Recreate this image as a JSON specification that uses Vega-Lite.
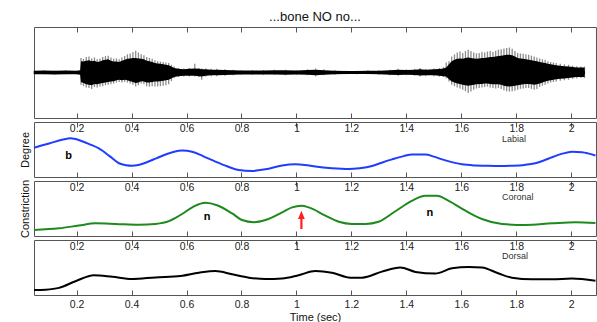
{
  "$schema": "https://vega.github.io/schema/vega-lite/v6.json",
  "padding": {"left": 18, "top": 10, "right": 0, "bottom": 0},
  "spacing": 4,
  "bounds": "flush",
  "config": {
    "font": "Liberation Sans",
    "view": {"stroke": "#555", "strokeWidth": 1},
    "axis": {"labelColor": "#222", "tickColor": "#555", "labelFontSize": 10.5, "labelFlush": false, "grid": false, "domain": false, "minExtent": 0}
  },
  "datasets": {
    "wave": [
      {"t":0.045,"hi":0.04,"lo":-0.04,"chi":0.04,"clo":-0.04},
      {"t":0.08,"hi":0.045,"lo":-0.04,"chi":0.045,"clo":-0.04},
      {"t":0.12,"hi":0.04,"lo":-0.045,"chi":0.04,"clo":-0.045},
      {"t":0.16,"hi":0.045,"lo":-0.04,"chi":0.045,"clo":-0.04},
      {"t":0.2,"hi":0.04,"lo":-0.04,"chi":0.04,"clo":-0.04},
      {"t":0.213,"hi":0.05,"lo":-0.05,"chi":0.05,"clo":-0.05},
      {"t":0.216,"hi":0.32,"lo":-0.27,"chi":0.25,"clo":-0.21},
      {"t":0.225,"hi":0.30,"lo":-0.30,"chi":0.24,"clo":-0.23},
      {"t":0.235,"hi":0.34,"lo":-0.33,"chi":0.26,"clo":-0.26},
      {"t":0.245,"hi":0.35,"lo":-0.34,"chi":0.27,"clo":-0.27},
      {"t":0.255,"hi":0.31,"lo":-0.36,"chi":0.25,"clo":-0.28},
      {"t":0.265,"hi":0.33,"lo":-0.32,"chi":0.26,"clo":-0.25},
      {"t":0.275,"hi":0.29,"lo":-0.33,"chi":0.23,"clo":-0.26},
      {"t":0.285,"hi":0.30,"lo":-0.31,"chi":0.24,"clo":-0.24},
      {"t":0.295,"hi":0.34,"lo":-0.30,"chi":0.27,"clo":-0.23},
      {"t":0.305,"hi":0.36,"lo":-0.28,"chi":0.28,"clo":-0.22},
      {"t":0.315,"hi":0.37,"lo":-0.27,"chi":0.29,"clo":-0.21},
      {"t":0.325,"hi":0.33,"lo":-0.26,"chi":0.26,"clo":-0.20},
      {"t":0.335,"hi":0.30,"lo":-0.24,"chi":0.24,"clo":-0.19},
      {"t":0.345,"hi":0.31,"lo":-0.22,"chi":0.24,"clo":-0.17},
      {"t":0.355,"hi":0.29,"lo":-0.21,"chi":0.23,"clo":-0.16},
      {"t":0.365,"hi":0.33,"lo":-0.22,"chi":0.26,"clo":-0.17},
      {"t":0.375,"hi":0.36,"lo":-0.21,"chi":0.28,"clo":-0.16},
      {"t":0.385,"hi":0.40,"lo":-0.22,"chi":0.30,"clo":-0.17},
      {"t":0.395,"hi":0.42,"lo":-0.24,"chi":0.31,"clo":-0.19},
      {"t":0.405,"hi":0.45,"lo":-0.27,"chi":0.32,"clo":-0.21},
      {"t":0.415,"hi":0.48,"lo":-0.31,"chi":0.32,"clo":-0.23},
      {"t":0.425,"hi":0.44,"lo":-0.28,"chi":0.31,"clo":-0.22},
      {"t":0.435,"hi":0.40,"lo":-0.24,"chi":0.30,"clo":-0.19},
      {"t":0.445,"hi":0.38,"lo":-0.26,"chi":0.29,"clo":-0.20},
      {"t":0.455,"hi":0.34,"lo":-0.30,"chi":0.26,"clo":-0.22},
      {"t":0.465,"hi":0.32,"lo":-0.31,"chi":0.25,"clo":-0.22},
      {"t":0.475,"hi":0.30,"lo":-0.30,"chi":0.23,"clo":-0.21},
      {"t":0.485,"hi":0.27,"lo":-0.31,"chi":0.21,"clo":-0.20},
      {"t":0.495,"hi":0.25,"lo":-0.31,"chi":0.20,"clo":-0.20},
      {"t":0.505,"hi":0.24,"lo":-0.30,"chi":0.19,"clo":-0.19},
      {"t":0.515,"hi":0.23,"lo":-0.29,"chi":0.18,"clo":-0.18},
      {"t":0.525,"hi":0.22,"lo":-0.28,"chi":0.17,"clo":-0.17},
      {"t":0.535,"hi":0.21,"lo":-0.26,"chi":0.16,"clo":-0.16},
      {"t":0.545,"hi":0.17,"lo":-0.19,"chi":0.13,"clo":-0.13},
      {"t":0.555,"hi":0.13,"lo":-0.12,"chi":0.10,"clo":-0.10},
      {"t":0.57,"hi":0.10,"lo":-0.10,"chi":0.08,"clo":-0.08},
      {"t":0.59,"hi":0.09,"lo":-0.09,"chi":0.07,"clo":-0.07},
      {"t":0.61,"hi":0.10,"lo":-0.09,"chi":0.08,"clo":-0.07},
      {"t":0.63,"hi":0.19,"lo":-0.09,"chi":0.09,"clo":-0.07},
      {"t":0.645,"hi":0.10,"lo":-0.10,"chi":0.08,"clo":-0.08},
      {"t":0.655,"hi":0.09,"lo":-0.16,"chi":0.07,"clo":-0.09},
      {"t":0.67,"hi":0.09,"lo":-0.09,"chi":0.07,"clo":-0.07},
      {"t":0.69,"hi":0.08,"lo":-0.08,"chi":0.06,"clo":-0.06},
      {"t":0.71,"hi":0.08,"lo":-0.08,"chi":0.06,"clo":-0.06},
      {"t":0.74,"hi":0.07,"lo":-0.07,"chi":0.055,"clo":-0.055},
      {"t":0.77,"hi":0.06,"lo":-0.06,"chi":0.05,"clo":-0.05},
      {"t":0.80,"hi":0.05,"lo":-0.05,"chi":0.045,"clo":-0.045},
      {"t":0.84,"hi":0.05,"lo":-0.05,"chi":0.045,"clo":-0.045},
      {"t":0.88,"hi":0.055,"lo":-0.05,"chi":0.045,"clo":-0.045},
      {"t":0.92,"hi":0.06,"lo":-0.05,"chi":0.05,"clo":-0.045},
      {"t":0.96,"hi":0.06,"lo":-0.06,"chi":0.05,"clo":-0.05},
      {"t":1.0,"hi":0.05,"lo":-0.05,"chi":0.045,"clo":-0.045},
      {"t":1.04,"hi":0.07,"lo":-0.06,"chi":0.055,"clo":-0.05},
      {"t":1.07,"hi":0.09,"lo":-0.08,"chi":0.06,"clo":-0.06},
      {"t":1.10,"hi":0.07,"lo":-0.06,"chi":0.05,"clo":-0.05},
      {"t":1.14,"hi":0.05,"lo":-0.05,"chi":0.04,"clo":-0.04},
      {"t":1.18,"hi":0.04,"lo":-0.04,"chi":0.035,"clo":-0.035},
      {"t":1.22,"hi":0.04,"lo":-0.04,"chi":0.035,"clo":-0.035},
      {"t":1.26,"hi":0.05,"lo":-0.04,"chi":0.04,"clo":-0.035},
      {"t":1.30,"hi":0.05,"lo":-0.05,"chi":0.04,"clo":-0.04},
      {"t":1.34,"hi":0.06,"lo":-0.06,"chi":0.05,"clo":-0.05},
      {"t":1.37,"hi":0.08,"lo":-0.07,"chi":0.06,"clo":-0.055},
      {"t":1.40,"hi":0.07,"lo":-0.06,"chi":0.055,"clo":-0.05},
      {"t":1.43,"hi":0.08,"lo":-0.07,"chi":0.06,"clo":-0.055},
      {"t":1.45,"hi":0.10,"lo":-0.09,"chi":0.07,"clo":-0.065},
      {"t":1.47,"hi":0.08,"lo":-0.08,"chi":0.06,"clo":-0.06},
      {"t":1.50,"hi":0.09,"lo":-0.08,"chi":0.07,"clo":-0.06},
      {"t":1.52,"hi":0.10,"lo":-0.09,"chi":0.075,"clo":-0.07},
      {"t":1.535,"hi":0.12,"lo":-0.10,"chi":0.09,"clo":-0.08},
      {"t":1.545,"hi":0.22,"lo":-0.13,"chi":0.11,"clo":-0.09},
      {"t":1.555,"hi":0.25,"lo":-0.20,"chi":0.18,"clo":-0.15},
      {"t":1.565,"hi":0.35,"lo":-0.27,"chi":0.25,"clo":-0.20},
      {"t":1.575,"hi":0.40,"lo":-0.30,"chi":0.28,"clo":-0.22},
      {"t":1.585,"hi":0.44,"lo":-0.33,"chi":0.30,"clo":-0.24},
      {"t":1.595,"hi":0.46,"lo":-0.35,"chi":0.31,"clo":-0.25},
      {"t":1.605,"hi":0.43,"lo":-0.38,"chi":0.30,"clo":-0.27},
      {"t":1.615,"hi":0.47,"lo":-0.41,"chi":0.32,"clo":-0.28},
      {"t":1.625,"hi":0.50,"lo":-0.45,"chi":0.33,"clo":-0.29},
      {"t":1.635,"hi":0.47,"lo":-0.42,"chi":0.32,"clo":-0.28},
      {"t":1.645,"hi":0.44,"lo":-0.38,"chi":0.31,"clo":-0.27},
      {"t":1.655,"hi":0.42,"lo":-0.35,"chi":0.30,"clo":-0.26},
      {"t":1.665,"hi":0.43,"lo":-0.34,"chi":0.31,"clo":-0.25},
      {"t":1.675,"hi":0.45,"lo":-0.33,"chi":0.32,"clo":-0.25},
      {"t":1.685,"hi":0.44,"lo":-0.32,"chi":0.32,"clo":-0.24},
      {"t":1.695,"hi":0.46,"lo":-0.31,"chi":0.33,"clo":-0.24},
      {"t":1.705,"hi":0.47,"lo":-0.33,"chi":0.34,"clo":-0.25},
      {"t":1.715,"hi":0.45,"lo":-0.34,"chi":0.34,"clo":-0.26},
      {"t":1.725,"hi":0.48,"lo":-0.35,"chi":0.35,"clo":-0.26},
      {"t":1.735,"hi":0.50,"lo":-0.34,"chi":0.36,"clo":-0.26},
      {"t":1.745,"hi":0.51,"lo":-0.36,"chi":0.37,"clo":-0.27},
      {"t":1.755,"hi":0.53,"lo":-0.39,"chi":0.38,"clo":-0.29},
      {"t":1.765,"hi":0.54,"lo":-0.41,"chi":0.39,"clo":-0.30},
      {"t":1.775,"hi":0.55,"lo":-0.42,"chi":0.39,"clo":-0.31},
      {"t":1.785,"hi":0.52,"lo":-0.41,"chi":0.38,"clo":-0.30},
      {"t":1.795,"hi":0.47,"lo":-0.40,"chi":0.35,"clo":-0.29},
      {"t":1.805,"hi":0.43,"lo":-0.38,"chi":0.32,"clo":-0.28},
      {"t":1.815,"hi":0.42,"lo":-0.36,"chi":0.31,"clo":-0.27},
      {"t":1.825,"hi":0.41,"lo":-0.35,"chi":0.30,"clo":-0.26},
      {"t":1.835,"hi":0.40,"lo":-0.34,"chi":0.29,"clo":-0.25},
      {"t":1.845,"hi":0.39,"lo":-0.34,"chi":0.28,"clo":-0.25},
      {"t":1.855,"hi":0.37,"lo":-0.36,"chi":0.27,"clo":-0.26},
      {"t":1.865,"hi":0.35,"lo":-0.38,"chi":0.26,"clo":-0.27},
      {"t":1.875,"hi":0.33,"lo":-0.36,"chi":0.25,"clo":-0.26},
      {"t":1.885,"hi":0.31,"lo":-0.32,"chi":0.23,"clo":-0.24},
      {"t":1.895,"hi":0.29,"lo":-0.29,"chi":0.22,"clo":-0.22},
      {"t":1.905,"hi":0.28,"lo":-0.27,"chi":0.21,"clo":-0.20},
      {"t":1.915,"hi":0.25,"lo":-0.24,"chi":0.19,"clo":-0.18},
      {"t":1.925,"hi":0.23,"lo":-0.22,"chi":0.18,"clo":-0.17},
      {"t":1.935,"hi":0.22,"lo":-0.21,"chi":0.17,"clo":-0.16},
      {"t":1.945,"hi":0.21,"lo":-0.20,"chi":0.16,"clo":-0.15},
      {"t":1.96,"hi":0.19,"lo":-0.18,"chi":0.15,"clo":-0.14},
      {"t":1.975,"hi":0.18,"lo":-0.17,"chi":0.14,"clo":-0.13},
      {"t":1.99,"hi":0.17,"lo":-0.16,"chi":0.13,"clo":-0.12},
      {"t":2.005,"hi":0.15,"lo":-0.14,"chi":0.12,"clo":-0.11},
      {"t":2.02,"hi":0.14,"lo":-0.13,"chi":0.11,"clo":-0.10},
      {"t":2.035,"hi":0.13,"lo":-0.12,"chi":0.11,"clo":-0.10},
      {"t":2.048,"hi":0.13,"lo":-0.12,"chi":0.11,"clo":-0.10},
      {"t":2.05,"hi":0.0,"lo":0.0,"chi":0.0,"clo":0.0}
    ],
    "labial": [
      {"t":0.045,"v":0.533},{"t":0.1,"v":0.61},{"t":0.15,"v":0.68},{"t":0.178,"v":0.703},
      {"t":0.215,"v":0.66},{"t":0.25,"v":0.59},{"t":0.281,"v":0.52},{"t":0.32,"v":0.38},
      {"t":0.354,"v":0.25},{"t":0.38,"v":0.215},{"t":0.402,"v":0.206},{"t":0.425,"v":0.22},
      {"t":0.451,"v":0.26},{"t":0.49,"v":0.34},{"t":0.524,"v":0.41},{"t":0.555,"v":0.46},
      {"t":0.584,"v":0.48},{"t":0.62,"v":0.46},{"t":0.66,"v":0.38},{"t":0.705,"v":0.28},
      {"t":0.75,"v":0.19},{"t":0.79,"v":0.127},{"t":0.838,"v":0.11},{"t":0.887,"v":0.14},
      {"t":0.948,"v":0.21},{"t":0.996,"v":0.23},{"t":1.03,"v":0.22},{"t":1.069,"v":0.19},
      {"t":1.129,"v":0.16},{"t":1.19,"v":0.145},{"t":1.23,"v":0.16},{"t":1.275,"v":0.2},
      {"t":1.31,"v":0.26},{"t":1.348,"v":0.32},{"t":1.39,"v":0.38},{"t":1.42,"v":0.41},
      {"t":1.469,"v":0.41},{"t":1.5,"v":0.37},{"t":1.53,"v":0.32},{"t":1.565,"v":0.27},
      {"t":1.602,"v":0.23},{"t":1.65,"v":0.21},{"t":1.687,"v":0.205},{"t":1.74,"v":0.2},
      {"t":1.784,"v":0.205},{"t":1.83,"v":0.22},{"t":1.869,"v":0.25},{"t":1.9,"v":0.3},
      {"t":1.93,"v":0.36},{"t":1.965,"v":0.42},{"t":2.002,"v":0.46},{"t":2.039,"v":0.45},
      {"t":2.06,"v":0.43},{"t":2.088,"v":0.39}
    ],
    "coronal": [
      {"t":0.045,"v":0.11},{"t":0.136,"v":0.14},{"t":0.208,"v":0.19},{"t":0.269,"v":0.23},
      {"t":0.342,"v":0.22},{"t":0.427,"v":0.205},{"t":0.487,"v":0.22},{"t":0.536,"v":0.27},
      {"t":0.56,"v":0.33},{"t":0.584,"v":0.4},{"t":0.627,"v":0.54},{"t":0.669,"v":0.605},
      {"t":0.711,"v":0.56},{"t":0.766,"v":0.41},{"t":0.802,"v":0.29},{"t":0.845,"v":0.25},
      {"t":0.887,"v":0.29},{"t":0.948,"v":0.43},{"t":0.984,"v":0.52},{"t":1.018,"v":0.55},
      {"t":1.045,"v":0.52},{"t":1.105,"v":0.37},{"t":1.154,"v":0.26},{"t":1.202,"v":0.22},
      {"t":1.251,"v":0.22},{"t":1.299,"v":0.26},{"t":1.36,"v":0.45},{"t":1.42,"v":0.64},
      {"t":1.469,"v":0.73},{"t":1.511,"v":0.73},{"t":1.554,"v":0.64},{"t":1.615,"v":0.46},
      {"t":1.675,"v":0.31},{"t":1.748,"v":0.22},{"t":1.833,"v":0.2},{"t":1.93,"v":0.23},
      {"t":2.015,"v":0.25},{"t":2.088,"v":0.236}
    ],
    "dorsal": [
      {"t":0.045,"v":0.09},{"t":0.087,"v":0.097},{"t":0.136,"v":0.13},{"t":0.196,"v":0.25},
      {"t":0.263,"v":0.36},{"t":0.33,"v":0.33},{"t":0.402,"v":0.29},{"t":0.487,"v":0.32},
      {"t":0.578,"v":0.345},{"t":0.645,"v":0.405},{"t":0.705,"v":0.436},{"t":0.766,"v":0.376},
      {"t":0.827,"v":0.315},{"t":0.887,"v":0.29},{"t":0.948,"v":0.3},{"t":1.008,"v":0.36},
      {"t":1.069,"v":0.436},{"t":1.129,"v":0.405},{"t":1.196,"v":0.315},{"t":1.239,"v":0.315},
      {"t":1.311,"v":0.425},{"t":1.378,"v":0.5},{"t":1.433,"v":0.42},{"t":1.505,"v":0.39},
      {"t":1.566,"v":0.485},{"t":1.627,"v":0.51},{"t":1.675,"v":0.5},{"t":1.736,"v":0.39},
      {"t":1.784,"v":0.315},{"t":1.857,"v":0.285},{"t":1.93,"v":0.285},{"t":2.002,"v":0.3},
      {"t":2.088,"v":0.26}
    ],
    "tags": [
      {"t":1.748,"v":0.69,"label":"Labial","panel":"L"},
      {"t":1.748,"v":0.715,"label":"Coronal","panel":"C"},
      {"t":1.748,"v":0.715,"label":"Dorsal","panel":"D"}
    ],
    "letters": [
      {"t":0.171,"v":0.327,"label":"b","panel":"L"},
      {"t":0.675,"v":0.29,"label":"n","panel":"C"},
      {"t":1.485,"v":0.37,"label":"n","panel":"C"}
    ],
    "arrow": [
      {"t":1.018,"v0":0.127,"v1":0.32,"vh":0.384}
    ]
  },
  "vconcat": [
    {
      "width": 562, "height": 91,
      "title": {"text": "...bone NO no...", "fontSize": 13, "fontWeight": "normal", "offset": 3, "color": "#111", "anchor": "middle"},
      "data": {"name": "wave"},
      "layer": [
        {
          "mark": {"type": "rule", "color": "#8c8c8c", "strokeWidth": 1.3},
          "encoding": {
            "x": {"field": "t", "type": "quantitative", "scale": {"domain": [0.045, 2.09], "nice": false, "zero": false},
                  "axis": {"orient": "top", "values": [0.2,0.4,0.6,0.8,1,1.2,1.4,1.6,1.8,2], "tickSize": -5, "labels": false, "title": null}},
            "y": {"field": "hi", "type": "quantitative", "scale": {"domain": [-1, 1], "nice": false}, "axis": null},
            "y2": {"field": "lo"}
          }
        },
        {
          "mark": {"type": "area", "color": "#000000"},
          "encoding": {
            "x": {"field": "t", "type": "quantitative", "scale": {"domain": [0.045, 2.09], "nice": false, "zero": false},
                  "axis": {"orient": "bottom", "values": [0.2,0.4,0.6,0.8,1,1.2,1.4,1.6,1.8,2], "tickSize": -5, "labels": false, "title": null}},
            "y": {"field": "chi", "type": "quantitative", "scale": {"domain": [-1, 1], "nice": false}, "axis": null},
            "y2": {"field": "clo"}
          }
        }
      ],
      "resolve": {"axis": {"x": "independent", "y": "independent"}}
    },
    {
      "width": 562, "height": 55,
      "layer": [
        {
          "data": {"name": "labial"},
          "mark": {"type": "line", "color": "#1f3cff", "strokeWidth": 2, "interpolate": "monotone"},
          "encoding": {
            "x": {"field": "t", "type": "quantitative", "scale": {"domain": [0.045, 2.09], "nice": false, "zero": false},
                  "axis": {"orient": "top", "values": [0.2,0.4,0.6,0.8,1,1.2,1.4,1.6,1.8,2], "format": "~g", "tickSize": -5, "labelPadding": -4.5, "labelBaseline": "alphabetic", "title": null}},
            "y": {"field": "v", "type": "quantitative", "scale": {"domain": [0, 1], "nice": false, "zero": false},
                  "axis": {"title": "Degree", "labels": false, "ticks": false, "titleFontSize": 11, "titleFontWeight": "normal", "titleColor": "#111", "titlePadding": 4}}
          }
        },
        {
          "data": {"name": "tags"},
          "transform": [{"filter": "datum.panel === 'L'"}],
          "mark": {"type": "text", "fontSize": 9, "align": "left", "baseline": "middle", "color": "#333"},
          "encoding": {
            "x": {"field": "t", "type": "quantitative", "scale": {"domain": [0.045, 2.09], "nice": false, "zero": false},
                  "axis": {"orient": "bottom", "values": [0.2,0.4,0.6,0.8,1,1.2,1.4,1.6,1.8,2], "tickSize": -5, "labels": false, "title": null}},
            "y": {"field": "v", "type": "quantitative", "scale": {"domain": [0, 1], "nice": false, "zero": false}, "axis": null},
            "text": {"field": "label"}
          }
        },
        {
          "data": {"name": "letters"},
          "transform": [{"filter": "datum.panel === 'L'"}],
          "mark": {"type": "text", "fontSize": 11, "fontWeight": "bold", "align": "center", "baseline": "alphabetic", "color": "#000"},
          "encoding": {
            "x": {"field": "t", "type": "quantitative", "scale": {"domain": [0.045, 2.09], "nice": false, "zero": false}, "axis": null},
            "y": {"field": "v", "type": "quantitative", "scale": {"domain": [0, 1], "nice": false, "zero": false}, "axis": null},
            "text": {"field": "label"}
          }
        }
      ],
      "resolve": {"axis": {"x": "independent", "y": "independent"}}
    },
    {
      "width": 562, "height": 55,
      "layer": [
        {
          "data": {"name": "coronal"},
          "mark": {"type": "line", "color": "#1e8a1e", "strokeWidth": 2, "interpolate": "monotone"},
          "encoding": {
            "x": {"field": "t", "type": "quantitative", "scale": {"domain": [0.045, 2.09], "nice": false, "zero": false},
                  "axis": {"orient": "top", "values": [0.2,0.4,0.6,0.8,1,1.2,1.4,1.6,1.8,2], "format": "~g", "tickSize": -5, "labelPadding": -4.5, "labelBaseline": "alphabetic", "title": null}},
            "y": {"field": "v", "type": "quantitative", "scale": {"domain": [0, 1], "nice": false, "zero": false},
                  "axis": {"title": "Constriction", "labels": false, "ticks": false, "titleFontSize": 11, "titleFontWeight": "normal", "titleColor": "#111", "titlePadding": 4}}
          }
        },
        {
          "data": {"name": "tags"},
          "transform": [{"filter": "datum.panel === 'C'"}],
          "mark": {"type": "text", "fontSize": 9, "align": "left", "baseline": "middle", "color": "#333"},
          "encoding": {
            "x": {"field": "t", "type": "quantitative", "scale": {"domain": [0.045, 2.09], "nice": false, "zero": false},
                  "axis": {"orient": "bottom", "values": [0.2,0.4,0.6,0.8,1,1.2,1.4,1.6,1.8,2], "tickSize": -5, "labels": false, "title": null}},
            "y": {"field": "v", "type": "quantitative", "scale": {"domain": [0, 1], "nice": false, "zero": false}, "axis": null},
            "text": {"field": "label"}
          }
        },
        {
          "data": {"name": "letters"},
          "transform": [{"filter": "datum.panel === 'C'"}],
          "mark": {"type": "text", "fontSize": 11, "fontWeight": "bold", "align": "center", "baseline": "alphabetic", "color": "#000"},
          "encoding": {
            "x": {"field": "t", "type": "quantitative", "scale": {"domain": [0.045, 2.09], "nice": false, "zero": false}, "axis": null},
            "y": {"field": "v", "type": "quantitative", "scale": {"domain": [0, 1], "nice": false, "zero": false}, "axis": null},
            "text": {"field": "label"}
          }
        },
        {
          "data": {"name": "arrow"},
          "mark": {"type": "rule", "color": "#ff2020", "strokeWidth": 2.2},
          "encoding": {
            "x": {"field": "t", "type": "quantitative", "scale": {"domain": [0.045, 2.09], "nice": false, "zero": false}, "axis": null},
            "y": {"field": "v0", "type": "quantitative", "scale": {"domain": [0, 1], "nice": false, "zero": false}, "axis": null},
            "y2": {"field": "v1"}
          }
        },
        {
          "data": {"name": "arrow"},
          "mark": {"type": "point", "shape": "M0,-1L0.8,1L-0.8,1Z", "filled": true, "color": "#ff2020", "size": 72, "opacity": 1},
          "encoding": {
            "x": {"field": "t", "type": "quantitative", "scale": {"domain": [0.045, 2.09], "nice": false, "zero": false}, "axis": null},
            "y": {"field": "vh", "type": "quantitative", "scale": {"domain": [0, 1], "nice": false, "zero": false}, "axis": null}
          }
        }
      ],
      "resolve": {"axis": {"x": "independent", "y": "independent"}}
    },
    {
      "width": 562, "height": 55,
      "layer": [
        {
          "data": {"name": "dorsal"},
          "mark": {"type": "line", "color": "#000000", "strokeWidth": 2, "interpolate": "monotone"},
          "encoding": {
            "x": {"field": "t", "type": "quantitative", "scale": {"domain": [0.045, 2.09], "nice": false, "zero": false},
                  "axis": {"orient": "top", "values": [0.2,0.4,0.6,0.8,1,1.2,1.4,1.6,1.8,2], "format": "~g", "tickSize": -5, "labelPadding": -4.5, "labelBaseline": "alphabetic", "title": null}},
            "y": {"field": "v", "type": "quantitative", "scale": {"domain": [0, 1], "nice": false, "zero": false}, "axis": null}
          }
        },
        {
          "data": {"name": "tags"},
          "transform": [{"filter": "datum.panel === 'D'"}],
          "mark": {"type": "text", "fontSize": 9, "align": "left", "baseline": "middle", "color": "#333"},
          "encoding": {
            "x": {"field": "t", "type": "quantitative", "scale": {"domain": [0.045, 2.09], "nice": false, "zero": false},
                  "axis": {"orient": "bottom", "values": [0.2,0.4,0.6,0.8,1,1.2,1.4,1.6,1.8,2], "format": "~g", "tickSize": -5, "labelPadding": 9.5, "labelBaseline": "top", "title": "Time (sec)", "titleFontSize": 11, "titleFontWeight": "normal", "titleColor": "#111", "titlePadding": 1}},
            "y": {"field": "v", "type": "quantitative", "scale": {"domain": [0, 1], "nice": false, "zero": false}, "axis": null},
            "text": {"field": "label"}
          }
        }
      ],
      "resolve": {"axis": {"x": "independent", "y": "independent"}}
    }
  ]
}
